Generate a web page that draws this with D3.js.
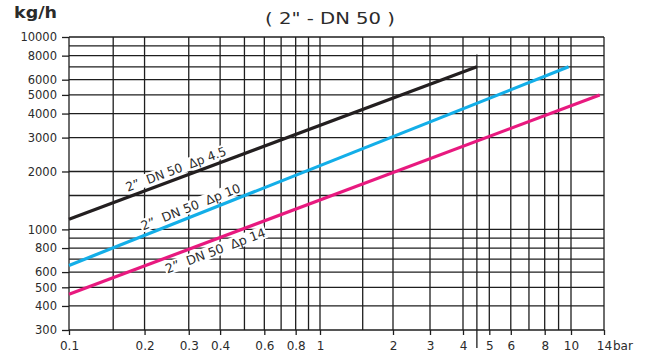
<!DOCTYPE html>
<html>
<head>
<meta charset="utf-8">
<script src="https://cdn.jsdelivr.net/npm/d3@7"></script>
<style>
  html, body { margin: 0; padding: 0; background: #fff; }
  text { font-family: "DejaVu Sans", sans-serif; fill: #2b2b2b; }
</style>
</head>
<body>
<div id="chart"></div>
<script>
// ticks and gridlines
var xTicks = [0.1, 0.2, 0.3, 0.4, 0.6, 0.8, 1, 2, 3, 4, 5, 6, 8, 10, 14];
var xGrid = [0.1, 0.15, 0.2, 0.3, 0.4, 0.5, 0.6, 0.7, 0.8, 0.9, 1, 1.5, 2, 3, 4, 5, 6, 7, 8, 9, 10, 14];
var yTicks = [300, 400, 500, 600, 800, 1000, 2000, 3000, 4000, 5000, 6000, 8000, 10000];
var yGrid = [300, 400, 500, 600, 700, 800, 900, 1000, 1500, 2000, 3000, 4000, 5000, 6000, 7000, 8000, 9000, 10000];

// series (bar -> kg/h), straight lines on the log-log paper
var seriesNames = ['2\u201D  DN 50  \u0394p 4.5', '2\u201D  DN 50  \u0394p 10', '2\u201D  DN 50  \u0394p 14'];
var seriesColors = ['#231f20', '#13aee8', '#e8197f'];
var dp45 = [[0.1, 1130], [4.5, 7000]];
var dp10 = [[0.1, 650], [9.8, 7000]];
var dp14 = [[0.1, 460], [13.4, 5000]];
var labelAt = [0.275, 0.315, 0.37];  // where the label sits along the line (bar)
var labelSide = [-1, -1, 1];         // above (-1) or below (+1) the line
var markerX = 4.5;                   // end mark of the Δp 4.5 curve

var width = 656, height = 362;
var plot = {left: 69, right: 604, top: 37, bottom: 330};

var svg = d3.select("#chart").append("svg")
  .attr("width", width)
  .attr("height", height);

// the scanned paper is not a perfect log grid, so use a piecewise log scale
var x = d3.scaleLog()
  .domain([0.1, 1, 2, 3, 4, 10, 14])
  .range([plot.left, 320, 393, 430, 463, 571, plot.right]);

var y = d3.scaleLog()
  .domain([300, 10000])
  .range([plot.bottom, plot.top]);

var gridColor = "#1e1e1e";

// vertical grid
svg.append("g")
  .selectAll("line")
  .data(xGrid)
  .enter()
  .append("line")
  .attr("x1", d => x(d))
  .attr("x2", d => x(d))
  .attr("y1", y(10000))
  .attr("y2", y(300))
  .attr("stroke", gridColor)
  .attr("stroke-width", 1.3);

// horizontal grid
svg.append("g")
  .selectAll("line")
  .data(yGrid)
  .enter()
  .append("line")
  .attr("x1", x(0.1))
  .attr("x2", x(14))
  .attr("y1", d => y(d))
  .attr("y2", d => y(d))
  .attr("stroke", gridColor)
  .attr("stroke-width", 1.3);

// marker for end of the 4.5 curve, runs past the axis
svg.append("line")
  .attr("x1", x(markerX))
  .attr("x2", x(markerX))
  .attr("y1", y(8100))
  .attr("y2", y(300) + 18)
  .attr("stroke", gridColor)
  .attr("stroke-width", 1.3);

// y axis
var yAxis = svg.append("g")
  .attr("transform", "translate(" + plot.left + ",0)")
  .call(d3.axisLeft(y).tickValues(yTicks).tickSize(7).tickPadding(5).tickFormat(d3.format("d")));
yAxis.select(".domain").remove();
yAxis.selectAll(".tick line").attr("stroke", gridColor).attr("stroke-width", 1.3);
yAxis.selectAll(".tick text")
  .style("font-family", "'DejaVu Sans', sans-serif")
  .style("font-size", "11.5px")
  .attr("fill", "#2b2b2b");

// x axis
var xAxis = svg.append("g")
  .attr("transform", "translate(0," + plot.bottom + ")")
  .call(d3.axisBottom(x).tickValues(xTicks).tickSize(5).tickPadding(6).tickFormat(d => d3.format("~g")(d)));
xAxis.select(".domain").remove();
xAxis.selectAll(".tick line").attr("stroke", gridColor).attr("stroke-width", 1.3);
xAxis.selectAll(".tick text")
  .style("font-family", "'DejaVu Sans', sans-serif")
  .style("font-size", "12px")
  .attr("fill", "#2b2b2b");

svg.append("text")
  .attr("x", x(14) + 9)
  .attr("y", plot.bottom + 20)
  .style("font-size", "12px")
  .text("bar");

// unit + title
svg.append("text")
  .attr("x", 14)
  .attr("y", 18)
  .attr("textLength", 43)
  .attr("lengthAdjust", "spacingAndGlyphs")
  .style("font-size", "16px")
  .style("font-weight", 600)
  .text("kg/h");

svg.append("text")
  .attr("x", 265)
  .attr("y", 24)
  .attr("textLength", 130)
  .attr("lengthAdjust", "spacingAndGlyphs")
  .style("font-size", "15px")
  .attr("fill", "#333")
  .text('( 2" - DN 50 )');

// curves
var allSeries = [dp45, dp10, dp14];
var line = d3.line().x(d => x(d[0])).y(d => y(d[1]));

allSeries.forEach(function(s, i) {
  svg.append("path")
    .datum(s)
    .attr("d", line)
    .attr("fill", "none")
    .attr("stroke", seriesColors[i])
    .attr("stroke-width", 3.2);
});

// rotated labels with white background
allSeries.forEach(function(s, i) {
  var x0 = x(s[0][0]), y0 = y(s[0][1]);
  var x1 = x(s[1][0]), y1 = y(s[1][1]);
  var ang = Math.atan2(y1 - y0, x1 - x0) * 180 / Math.PI;
  var px = x(labelAt[i]);
  var py = y0 + (px - x0) * (y1 - y0) / (x1 - x0);
  var off = labelSide[i] < 0 ? -5 : 15;

  var g = svg.append("g")
    .attr("transform", "translate(" + px + "," + py + ") rotate(" + ang + ")");

  var bg = g.append("rect").attr("fill", "#fff");
  var t = g.append("text")
    .attr("x", 0)
    .attr("y", off)
    .attr("text-anchor", "middle")
    .attr("textLength", 106)
    .attr("lengthAdjust", "spacingAndGlyphs")
    .style("font-size", "12.5px")
    .style("white-space", "pre")
    .attr("fill", "#1a1a1a")
    .text(seriesNames[i]);

  var bb = t.node().getBBox();
  bg.attr("x", bb.x - 1)
    .attr("y", bb.y + 1)
    .attr("width", bb.width + 2)
    .attr("height", bb.height - 2);
});
</script>
</body>
</html>
